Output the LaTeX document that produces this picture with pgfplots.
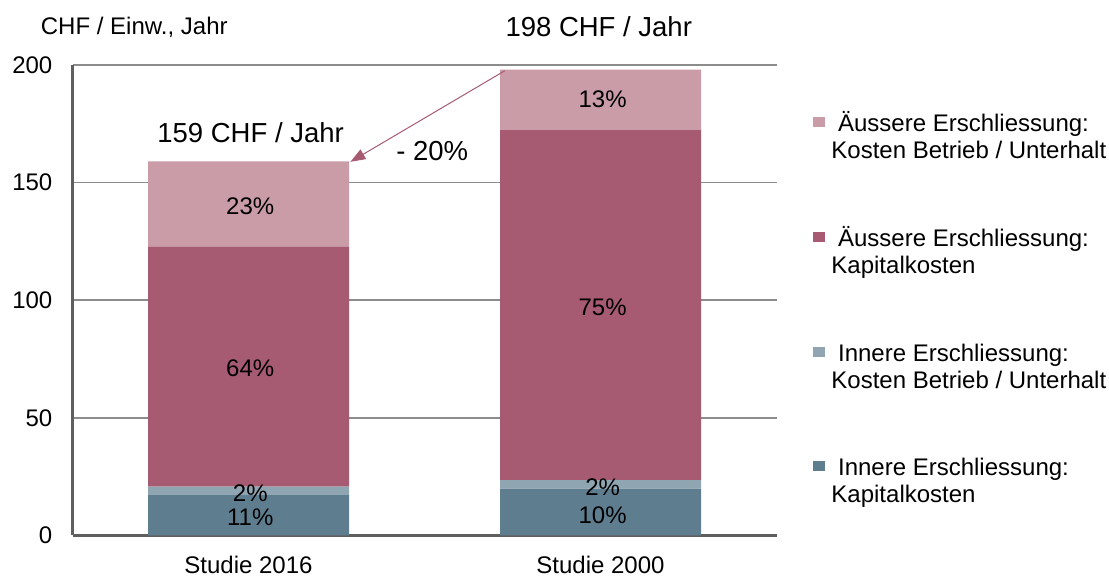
\documentclass[border=0pt]{standalone}
\usepackage{pgfplots}
\pgfplotsset{compat=1.18}
\usepackage{fontspec}
\setmainfont{Liberation Sans}
\usetikzlibrary{arrows.meta}
\definecolor{c1}{HTML}{5E7E90}
\definecolor{c2}{HTML}{8FA5B2}
\definecolor{c3}{HTML}{A65B72}
\definecolor{c4}{HTML}{C99CA8}
\definecolor{gridc}{HTML}{8C8C8C}
\definecolor{axc}{HTML}{5F5F5F}
\begin{document}
\fontsize{24bp}{27bp}\selectfont
\begin{tikzpicture}[x=1bp,y=1bp]
\useasboundingbox (0,0) rectangle (1109,576);
\begin{axis}[
  at={(72.5bp,40.5bp)}, anchor=south west,
  scale only axis, width=704bp, height=470.6bp,
  ybar stacked, bar width=0.571,
  legend image code/.code={\fill[#1] (0bp,4.7bp) rectangle (12.5bp,14.7bp);},
  xmin=-0.5, xmax=1.5, ymin=0, ymax=200,
  enlargelimits=false, clip=false,
  xtick={0,1}, xticklabels={Studie 2016, Studie 2000},
  ytick={0,50,100,150,200},
  /pgf/number format/assume math mode=true,
  ymajorgrids, grid style={gridc, line width=1.5bp},
  axis lines*=left,
  axis line style={axc, line width=3bp},
  major tick length=0pt,
  yticklabel style={anchor=east, inner sep=0pt, xshift=-20bp},
  xticklabel style={anchor=north, inner sep=0pt, yshift=-20bp},
  reverse legend,
  legend style={at={(axis description cs:1.0515,0.902)}, anchor=north west,
    draw=none, fill=none, inner sep=0pt, row sep=92bp,
    cells={anchor=base west},
    nodes={inner sep=0pt},
    /tikz/every odd column/.append style={column sep=6bp}},
]
\addplot[fill=c1, draw=none] coordinates {(0,17.2) (1,19.9)};
\addlegendentry{\begin{tabular}[t]{@{}l@{}}\ Innere Erschliessung:\\Kapitalkosten\end{tabular}}
\addplot[fill=c2, draw=none] coordinates {(0,3.6) (1,3.6)};
\addlegendentry{\begin{tabular}[t]{@{}l@{}}\ Innere Erschliessung:\\Kosten Betrieb / Unterhalt\end{tabular}}
\addplot[fill=c3, draw=none] coordinates {(0,101.9) (1,149.0)};
\addlegendentry{\begin{tabular}[t]{@{}l@{}}\ Äussere Erschliessung:\\Kapitalkosten\end{tabular}}
\addplot[fill=c4, draw=none] coordinates {(0,36.3) (1,25.5)};
\addlegendentry{\begin{tabular}[t]{@{}l@{}}\ Äussere Erschliessung:\\Kosten Betrieb / Unterhalt\end{tabular}}

\coordinate (a1) at (axis cs:0.005,136.6);
\coordinate (a2) at (axis cs:0.005,67.4);
\coordinate (a3) at (axis cs:0.005,14.6);
\coordinate (a4) at (axis cs:0.005,4.4);
\coordinate (b1) at (axis cs:1.006,181.7);
\coordinate (b2) at (axis cs:1.006,93.7);
\coordinate (b3) at (axis cs:1.006,17.2);
\coordinate (b4) at (axis cs:1.006,5.1);
\coordinate (t1) at (axis cs:0.006,167.2);
\coordinate (t2) at (axis cs:0.995,212.2);
\coordinate (t3) at (axis cs:0.522,159.5);
\coordinate (r1) at (axis cs:0.728,197.5);
\coordinate (r2) at (axis cs:0.2895,158.8);
\end{axis}
\node[anchor=base] at (a1) {23\%};
\node[anchor=base] at (a2) {64\%};
\node[anchor=base] at (a3) {2\%};
\node[anchor=base] at (a4) {11\%};
\node[anchor=base] at (b1) {13\%};
\node[anchor=base] at (b2) {75\%};
\node[anchor=base] at (b3) {2\%};
\node[anchor=base] at (b4) {10\%};
\node[anchor=base, font=\fontsize{27.5bp}{30bp}\selectfont] at (t1) {159 CHF / Jahr};
\node[anchor=base, font=\fontsize{27.5bp}{30bp}\selectfont] at (t2) {198 CHF / Jahr};
\node[anchor=base, font=\fontsize{27.5bp}{30bp}\selectfont] at (t3) {- 20\%};
\draw[c3, line width=1bp, -{Triangle[length=15bp,width=11bp]}] (r1) -- (r2);
\node[anchor=base west, inner sep=0pt] at (40.7,541) {CHF / Einw., Jahr};
\end{tikzpicture}
\end{document}
